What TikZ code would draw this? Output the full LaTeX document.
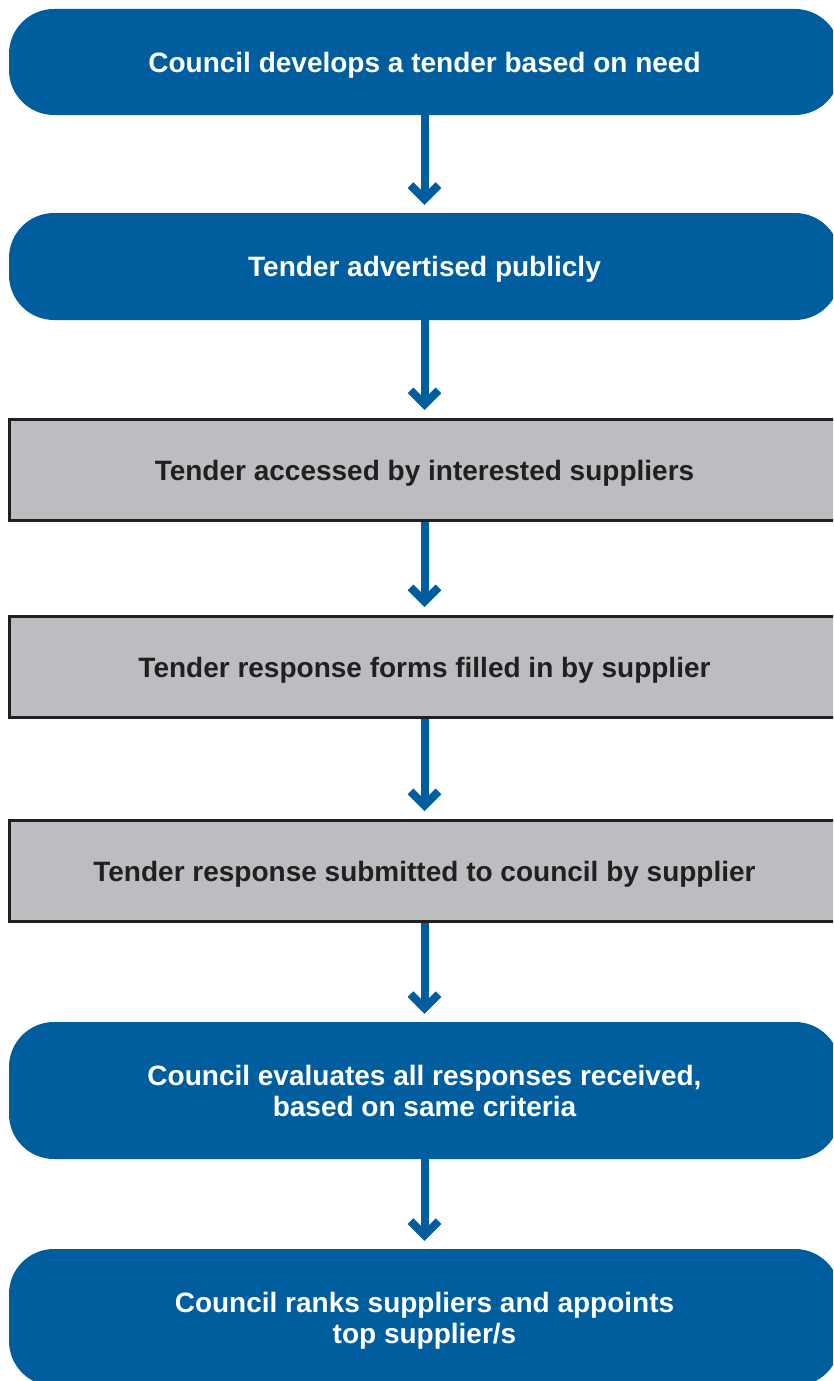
\documentclass[tikz,border=0pt]{standalone}
\usepackage{fontspec}
\setmainfont{Liberation Sans}
\usetikzlibrary{arrows.meta}
\definecolor{cblue}{RGB}{0,94,159}
\definecolor{cgray}{RGB}{188,189,192}
\definecolor{cdark}{RGB}{35,31,32}
\begin{document}
\begin{tikzpicture}[x=1pt,y=-1pt,
  lbl/.style={font=\fontsize{28}{31}\selectfont\bfseries, align=center, text depth=0pt},
  bluebox/.style={lbl, fill=cblue, rounded corners=45pt, text=white, minimum width=831pt},
  graybox/.style={lbl, fill=cgray, draw=cdark, line width=3pt, text=cdark, minimum width=831pt, minimum height=101pt},
  flow/.style={draw=cblue, line width=8pt, shorten >=8pt, line cap=butt,
    -{Straight Barb[length=14pt, width=28pt, line join=miter, line cap=butt]}}
]
\useasboundingbox (0,0) rectangle (833,1381);
\clip (0,0) rectangle (833,1381);
\node[bluebox, minimum height=106pt] (b1) at (424.5,62) {Council develops a tender based on need};
\node[bluebox, minimum height=107pt] (b2) at (424.5,266.5) {Tender advertised publicly};
\node[graybox] (b3) at (424.5,470) {Tender accessed by interested suppliers};
\node[graybox] (b4) at (424.5,667) {Tender response forms filled in by supplier};
\node[graybox] (b5) at (424.5,871) {Tender response submitted to council by supplier};
\node[bluebox, minimum height=137pt] (b6) at (424.5,1090.5) {Council evaluates all responses received,\\ based on same criteria};
\node[bluebox, minimum height=137pt] (b7) at (424.5,1317.5) {Council ranks suppliers and appoints\\ top supplier/s};
\draw[flow] (b1.south) -- (b2.north);
\draw[flow] (b2.south) -- (b3.north);
\draw[flow] (b3.south) -- (b4.north);
\draw[flow] (b4.south) -- (b5.north);
\draw[flow] (b5.south) -- (b6.north);
\draw[flow] (b6.south) -- (b7.north);
\end{tikzpicture}
\end{document}
